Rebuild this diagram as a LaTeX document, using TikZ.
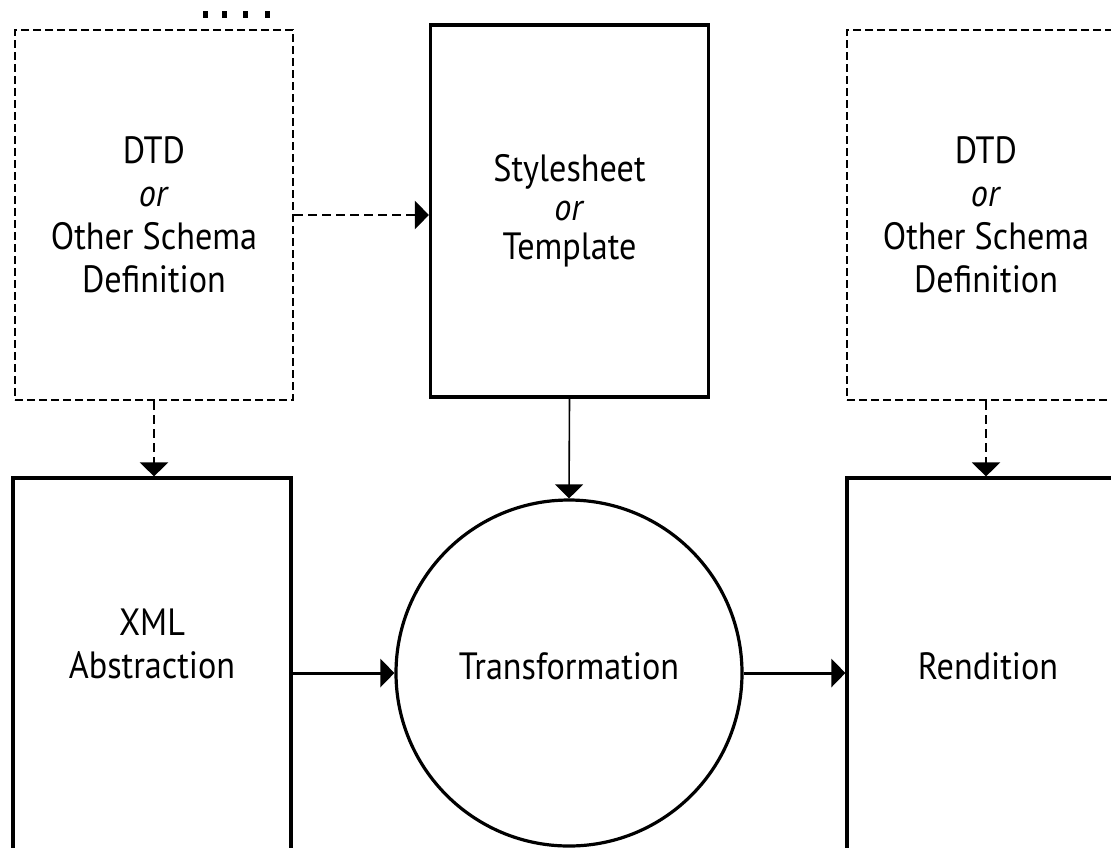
\documentclass[tikz,border=0pt]{standalone}
\usepackage{fontspec}
\setmainfont{PT Sans}[FakeStretch=0.9]
\usetikzlibrary{arrows.meta}

\tikzset{
  lbl/.style={align=center, font=\fontsize{19}{21.5}\selectfont},
  dashbox/.style={draw, dash pattern=on 4pt off 2pt, line width=1.1pt,
    minimum width=139pt, minimum height=185pt, inner sep=0pt, lbl},
  solidbox/.style={draw, line width=1.6pt, minimum width=139pt, inner sep=0pt, lbl},
  dasharrow/.style={-{Triangle[length=7pt,width=14pt]},
    dash pattern=on 4.5pt off 2.5pt, line width=1.2pt},
  solidarrow/.style={-{Triangle[length=7pt,width=14pt]}, line width=1.5pt}
}

\begin{document}
\begin{tikzpicture}[x=0.5pt,y=-0.5pt]
  \useasboundingbox (0,0) rectangle (1111,847);
  \clip (0,0) rectangle (1111,847);
  % stray marks at the top
  \foreach \xa/\xb in {203/208,222/227,243/248,265/270}
    \fill (\xa,11) rectangle (\xb,18);

  \node[dashbox] (dtdL) at (154,215) {DTD\\\textit{or}\\Other Schema\\Definition};
  \node[solidbox, minimum height=186pt, font=\fontsize{19}{19.5}\selectfont] (style) at (569.5,211) {Stylesheet\\\textit{or}\\Template};
  \node[dashbox] (dtdR) at (986,215) {DTD\\\textit{or}\\Other Schema\\Definition};

  % bottom boxes run off the page
  \node[solidbox, minimum height=200pt] (xml) at (152,678) {};
  \node[lbl] (xmlText) at (152,644) {XML\\Abstraction};
  \node[circle, draw, line width=1.6pt, minimum size=173pt, inner sep=0pt] (trans) at (569,673) {};
  \node[lbl] (transText) at (569,666) {Transformation};
  \node[solidbox, minimum height=200pt] (rend) at (986,678) {};
  \node[lbl] (rendText) at (988,666) {Rendition};

  \draw[dasharrow] (dtdL.east) -- (dtdL.east -| style.west);
  \draw[dasharrow] (dtdL.south) -- (dtdL.south |- xml.north);
  \draw[dasharrow] (dtdR.south) -- (dtdR.south |- rend.north);
  \draw[-{Triangle[length=7pt,width=14pt]}, line width=0.8pt] (style.south) -- (trans.north);
  \draw[solidarrow] (trans.west -| xml.east) -- (trans.west);
  \draw[solidarrow] (trans.east) -- (trans.east -| rend.west);
\end{tikzpicture}
\end{document}
